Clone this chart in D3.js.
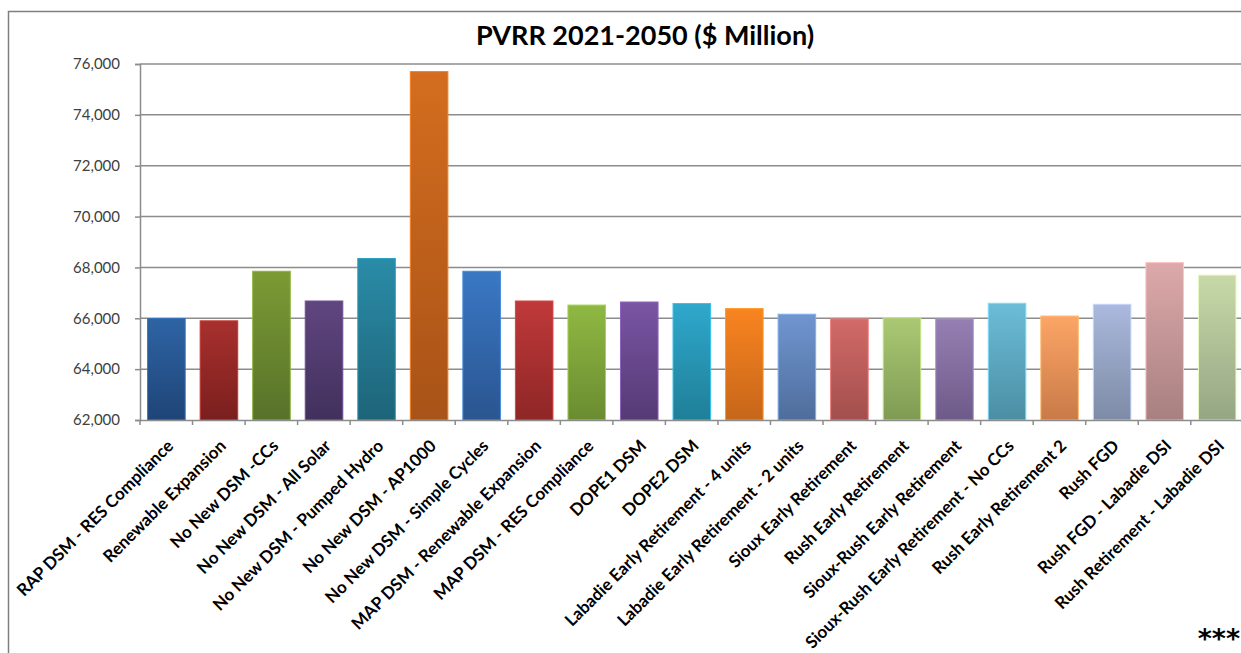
<!DOCTYPE html>
<html><head><meta charset="utf-8">
<script src="https://cdn.jsdelivr.net/npm/d3@7"></script>
<style>
html,body{margin:0;padding:0;background:#fff;}
svg{display:block;}
</style></head>
<body>
<svg id="chart" width="1241" height="653"></svg>
<script>
const categories = [
  "RAP DSM - RES Compliance","Renewable Expansion","No New DSM -CCs","No New DSM - All Solar",
  "No New DSM - Pumped Hydro","No New DSM - AP1000","No New DSM - Simple Cycles",
  "MAP DSM - Renewable Expansion","MAP DSM - RES Compliance","DOPE1 DSM","DOPE2 DSM",
  "Labadie Early Retirement - 4 units","Labadie Early Retirement - 2 units","Sioux Early Retirement",
  "Rush Early Retirement","Sioux-Rush Early Retirement","Sioux-Rush Early Retirement - No CCs",
  "Rush Early Retirement 2","Rush FGD","Rush FGD - Labadie DSI","Rush Retirement - Labadie DSI"
];
const values = [65990,65900,67850,66680,68350,75700,67850,66680,66520,66640,66580,
  66380,66160,65975,66025,65975,66590,66090,66550,68190,67700];
const topColors = ["#2e64a4","#a8302d","#7b9b34","#604680","#2a8ca8","#d46d1e","#3a78c4",
  "#c0393a","#8fb843","#7a55a3","#2fa8cc","#f98420","#7096cf","#d26a68","#abc974","#9680b3",
  "#6cbdd8","#fca566","#aab9dd","#dda9aa","#c8d9a8"];
const bottomColors = ["#1f4477","#7a1f1e","#57722a","#41305c","#1d6478","#a85318","#2a5590",
  "#8f2626","#6a8c30","#553a75","#1f7f98","#c6661a","#4e6d9c","#a24f4d","#7f9b53","#6e5a89",
  "#4b8ea3","#c97a48","#7d8ba6","#a88080","#95a684"];
const yTicks = [62000,64000,66000,68000,70000,72000,74000,76000];
const title = "PVRR 2021-2050 ($ Million)";

const svg = d3.select("#chart");
const pLeft = 140, pRight = 1243.6, pTop = 64, pBottom = 420;
const font = "Lato, 'Open Sans', sans-serif";

// outer frame
svg.append("rect").attr("x",8.5).attr("y",11.5).attr("width",1250).attr("height",700)
  .attr("fill","none").attr("stroke","#7f7f7f").attr("stroke-width",1.5);

const x = d3.scaleBand().domain(categories).range([pLeft,pRight]).paddingInner(0.285).paddingOuter(0.145);
const y = d3.scaleLinear().domain([62000,76000]).range([pBottom,pTop]);

const defs = svg.append("defs");
categories.forEach((c,i)=>{
  const g = defs.append("linearGradient").attr("id","g"+i).attr("x1",0).attr("y1",0).attr("x2",0).attr("y2",1);
  g.append("stop").attr("offset","0%").attr("stop-color",topColors[i]);
  g.append("stop").attr("offset","100%").attr("stop-color",bottomColors[i]);
});

// gridlines
svg.append("g").selectAll("line").data(yTicks.slice(1)).join("line")
  .attr("x1",pLeft).attr("x2",1241).attr("y1",d=>y(d)).attr("y2",d=>y(d))
  .attr("stroke","#8c8c8c").attr("stroke-width",1.5);

// y axis
const yAxis = svg.append("g").attr("transform",`translate(${pLeft},0)`)
  .call(d3.axisLeft(y).tickValues(yTicks).tickFormat(d3.format(",")).tickSize(5).tickPadding(15));
yAxis.select(".domain").attr("stroke","#8c8c8c").attr("stroke-width",1.5);
yAxis.selectAll(".tick line").attr("stroke","#8c8c8c").attr("stroke-width",1.5);
yAxis.selectAll("text").attr("font-family",font).attr("font-size",15).attr("fill","#404040");

// bars
svg.append("g").selectAll("rect").data(values).join("rect")
  .attr("x",(d,i)=>x(categories[i])).attr("width",x.bandwidth())
  .attr("y",d=>y(d)).attr("height",d=>pBottom-y(d))
  .attr("fill",(d,i)=>`url(#g${i})`)
  .attr("stroke",(d,i)=>d3.color(topColors[i]).brighter(0.4)).attr("stroke-width",1);

// x axis
const xAxis = svg.append("g").attr("transform",`translate(0,${pBottom})`)
  .call(d3.axisBottom(x).tickSize(0).tickFormat(""));
xAxis.select(".domain").attr("stroke","#8c8c8c").attr("stroke-width",1.5);
const step = x.step();
const bounds = d3.range(categories.length+1).map(i=>pLeft+i*step);
svg.append("g").selectAll("line").data(bounds).join("line")
  .attr("x1",d=>d).attr("x2",d=>d).attr("y1",pBottom).attr("y2",pBottom+5)
  .attr("stroke","#8c8c8c").attr("stroke-width",1.5);

// x labels
svg.append("g").selectAll("text").data(categories).join("text")
  .attr("transform",d=>`translate(${x(d)+x.bandwidth()/2+8},${pBottom+27}) rotate(-45)`)
  .attr("text-anchor","end")
  .attr("font-family",font).attr("font-weight","bold")
  .attr("font-size",17).attr("fill","#000")
  .text(d=>d);

// title
svg.append("text").attr("x",645).attr("y",45).attr("text-anchor","middle")
  .attr("font-family",font).attr("font-weight","bold")
  .attr("font-size",27).attr("fill","#000").text(title);

// asterisks
svg.append("text").attr("x",1240).attr("y",648).attr("text-anchor","end")
  .attr("font-family","'DejaVu Sans', sans-serif").attr("font-weight","bold")
  .attr("font-size",27).attr("fill","#000").text("***");
</script>
</body></html>
